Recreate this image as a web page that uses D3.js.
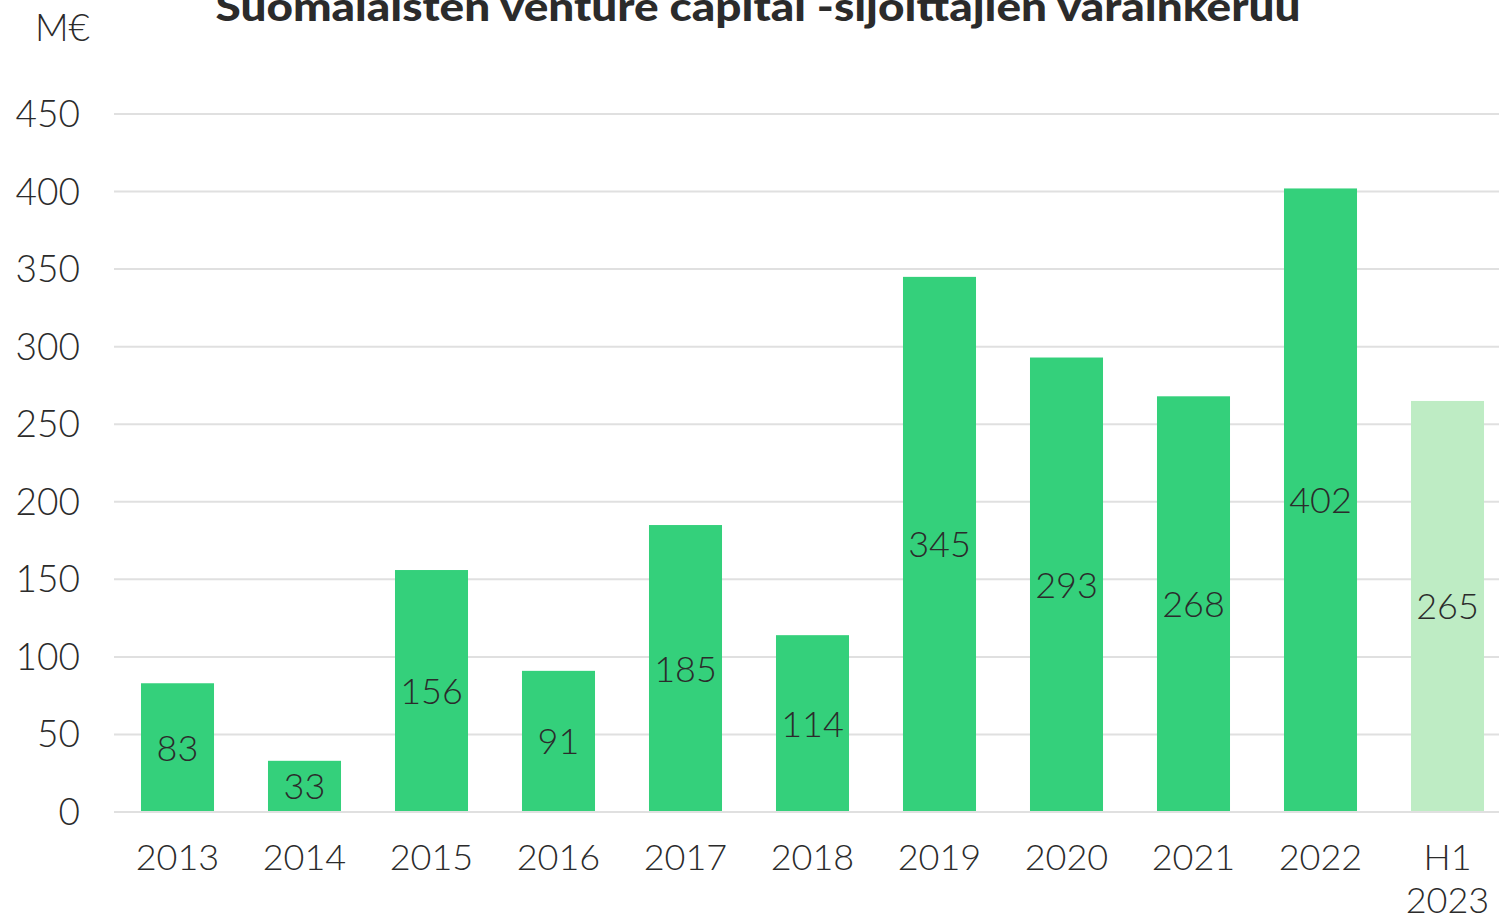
<!DOCTYPE html>
<html>
<head>
<meta charset="utf-8">
<script src="https://cdn.jsdelivr.net/npm/d3@7"></script>
<style>
  body { margin: 0; background: #fff; }
  text { font-family: Lato, "Noto Sans", sans-serif; fill: #2b2b2b; }
</style>
</head>
<body>
<script>
var categories = ["2013", "2014", "2015", "2016", "2017", "2018", "2019", "2020", "2021", "2022", "H1 2023"];
var values = [83, 33, 156, 91, 185, 114, 345, 293, 268, 402, 265];
var yTicks = [0, 50, 100, 150, 200, 250, 300, 350, 400, 450];
var titleText = "Suomalaisten venture capital -sijoittajien varainkeruu";
var unitText = "M€";

var W = 1499, H = 914;
var svg = d3.select("body").append("svg").attr("width", W).attr("height", H);

var x = d3.scaleBand().domain(categories).range([114, 114 + 127 * 11]).paddingInner(0.425).paddingOuter(0.2125);
var y = d3.scaleLinear().domain([0, 450]).range([812, 114]);

// gridlines
svg.append("g").selectAll("line.grid")
   .data(yTicks)
   .enter().append("line")
   .attr("class", "grid")
   .attr("x1", 114).attr("x2", W)
   .attr("y1", function(d){ return y(d); })
   .attr("y2", function(d){ return y(d); })
   .attr("stroke", "#e0e0e0")
   .attr("stroke-width", 2);

// y tick labels
svg.append("g").selectAll("text.ytick")
   .data(yTicks)
   .enter().append("text")
   .attr("class", "ytick")
   .attr("x", 80)
   .attr("y", function(d){ return y(d) + 13; })
   .attr("text-anchor", "end")
   .attr("font-size", 37)
   .attr("font-weight", 300)
   .text(function(d){ return d; });

// bars
svg.append("g").selectAll("rect.bar")
   .data(values)
   .enter().append("rect")
   .attr("class", "bar")
   .attr("x", function(d, i){ return x(categories[i]); })
   .attr("y", function(d){ return y(d); })
   .attr("width", x.bandwidth())
   .attr("height", function(d){ return y(0) - y(d) - 1; })
   .attr("fill", function(d, i){ return i == categories.length - 1 ? "#beecc4" : "#34d07b"; });

// value labels
svg.append("g").selectAll("text.val")
   .data(values)
   .enter().append("text")
   .attr("class", "val")
   .attr("x", function(d, i){ return x(categories[i]) + x.bandwidth() / 2; })
   .attr("y", function(d){ return (y(d) + y(0)) / 2 + 13; })
   .attr("text-anchor", "middle")
   .attr("font-size", 36)
   .attr("font-weight", 300)
   .text(function(d){ return d; });

// x labels
var xl = svg.append("g").selectAll("text.xtick")
   .data(categories)
   .enter().append("text")
   .attr("class", "xtick")
   .attr("x", function(d){ return x(d) + x.bandwidth() / 2; })
   .attr("y", 870)
   .attr("text-anchor", "middle")
   .attr("font-size", 36)
   .attr("font-weight", 300);
xl.each(function(d){
  var parts = d.split(" ");
  var t = d3.select(this);
  parts.forEach(function(p, k){
    t.append("tspan").attr("x", x(d) + x.bandwidth() / 2).attr("dy", k == 0 ? 0 : 43).text(p);
  });
});

// unit
svg.append("text")
   .attr("x", 90).attr("y", 41)
   .attr("text-anchor", "end")
   .attr("font-size", 37)
   .attr("font-weight", 300)
   .text(unitText);

// title
svg.append("text")
   .attr("x", 758).attr("y", 21)
   .attr("text-anchor", "middle")
   .attr("font-size", 40)
   .attr("font-weight", 900)
   .attr("textLength", 1085)
   .attr("lengthAdjust", "spacingAndGlyphs")
   .text(titleText);
</script>
</body>
</html>
